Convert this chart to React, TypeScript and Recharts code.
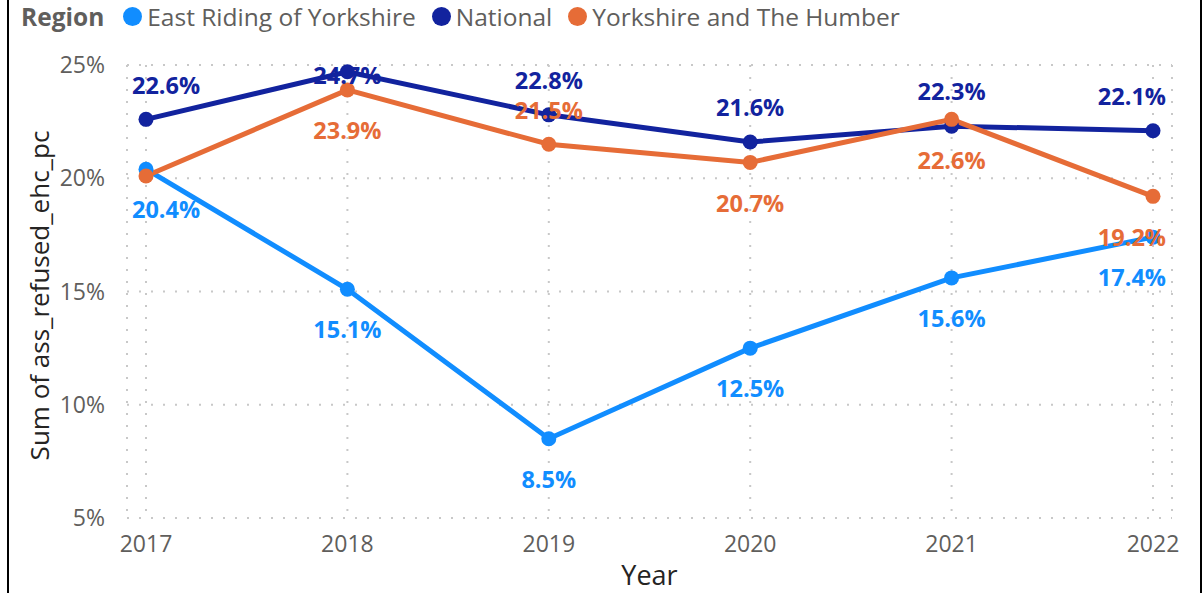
import { LineChart, Line, XAxis, YAxis, CartesianGrid, LabelList, Label } from 'recharts';

const years = ['2017', '2018', '2019', '2020', '2021', '2022'];
const eastRiding = [20.4, 15.1, 8.5, 12.5, 15.6, 17.4];
const national = [22.6, 24.7, 22.8, 21.6, 22.3, 22.1];
const yorkshire = [20.1, 23.9, 21.5, 20.7, 22.6, 19.2];
const yTicks = [5, 10, 15, 20, 25];

// where the data label sits relative to each point
const eastPlacement = ['below', 'below', 'below', 'below', 'below', 'below'];
const nationalPlacement = ['above', 'on', 'above', 'above', 'above', 'above'];
const yorkshirePlacement = ['none', 'below', 'above', 'below', 'below', 'below'];

const FONT = "'Segoe UI', 'Open Sans', sans-serif";
const EAST = '#118DFF';
const NATIONAL = '#12239E';
const YORKSHIRE = '#E66C37';

const data = years.map((year, i) => ({
  year,
  east: eastRiding[i],
  national: national[i],
  yorkshire: yorkshire[i],
}));

const legendItems = [
  { name: 'East Riding of Yorkshire', color: EAST },
  { name: 'National', color: NATIONAL },
  { name: 'Yorkshire and The Humber', color: YORKSHIRE },
];

function pointLabel(color: string, placement: string[]) {
  return (props: any) => {
    const { value, index } = props;
    const x = props.viewBox?.x ?? props.x;
    const y = props.viewBox?.y ?? props.y;
    const where = placement[index];
    if (where === 'none' || value == null) return null;
    let ty = y + 4;
    if (where === 'above') ty = y - 34;
    if (where === 'below') ty = y + 41;
    let tx = x;
    let anchor: 'start' | 'middle' | 'end' = 'middle';
    // keep first/last labels inside the plot area
    if (index === 0) {
      tx = x - 14;
      anchor = 'start';
    } else if (index === years.length - 1) {
      tx = x + 13;
      anchor = 'end';
    }
    return (
      <text
        x={tx}
        y={ty}
        dy="0.35em"
        textAnchor={anchor}
        fill={color}
        fontFamily={FONT}
        fontSize={23.5}
        fontWeight={700}
      >
        {value.toFixed(1)}%
      </text>
    );
  };
}

const XTick = ({ x, y, payload }: any) => (
  <text x={x} y={y + 26} textAnchor="middle" fill="#605E5C" fontFamily={FONT} fontSize={23}>
    {payload.value}
  </text>
);

const YTick = ({ y, payload }: any) => (
  <text x={105} y={y + 8} textAnchor="end" fill="#605E5C" fontFamily={FONT} fontSize={23}>
    {payload.value}%
  </text>
);

export default function App() {
  return (
    <div style={{ position: 'absolute', left: 0, top: 0, width: 1202, height: 593, background: '#fff', overflow: 'hidden' }}>
      <div
        style={{
          position: 'absolute',
          left: 7,
          top: -4,
          width: 1191,
          height: 601,
          borderLeft: '2px solid #000',
          borderRight: '2px solid #000',
        }}
      />
      <div
        style={{
          position: 'absolute',
          left: 21,
          top: 0,
          display: 'flex',
          alignItems: 'center',
          fontFamily: FONT,
          fontSize: 24.5,
          color: '#605E5C',
          whiteSpace: 'nowrap',
        }}
      >
        <span style={{ fontWeight: 700, marginRight: 19 }}>Region</span>
        {legendItems.map((item) => (
          <span key={item.name} style={{ display: 'flex', alignItems: 'center', marginRight: 16 }}>
            <span
              style={{
                width: 19,
                height: 19,
                borderRadius: '50%',
                background: item.color,
                marginRight: 5,
                display: 'inline-block',
              }}
            />
            {item.name}
          </span>
        ))}
      </div>
      <LineChart width={1202} height={593} data={data} margin={{ top: 65, right: 30, bottom: 0, left: 0 }}>
        <CartesianGrid stroke="#C8C8C8" strokeWidth={2} strokeDasharray="2 10" />
        <XAxis
          dataKey="year"
          height={75}
          padding={{ left: 19, right: 19 }}
          axisLine={false}
          tickLine={false}
          tick={<XTick />}
          interval={0}
        >
          <Label
            content={({ viewBox }: any) => (
              <text
                x={viewBox.x + viewBox.width / 2}
                y={viewBox.y + viewBox.height - 8}
                textAnchor="middle"
                fill="#252423"
                fontFamily={FONT}
                fontSize={27}
              >
                Year
              </text>
            )}
          />
        </XAxis>
        <YAxis
          width={127}
          domain={[5, 25]}
          ticks={yTicks}
          axisLine={false}
          tickLine={false}
          tick={<YTick />}
        >
          <Label
            content={({ viewBox }: any) => {
              const cx = 40;
              const cy = viewBox.y + viewBox.height / 2 + 4;
              return (
                <text
                  x={cx}
                  y={cy}
                  dy="0.35em"
                  transform={`rotate(-90, ${cx}, ${cy})`}
                  textAnchor="middle"
                  fill="#252423"
                  fontFamily={FONT}
                  fontSize={26}
                >
                  Sum of ass_refused_ehc_pc
                </text>
              );
            }}
          />
        </YAxis>
        <Line
          dataKey="east"
          stroke={EAST}
          strokeWidth={5}
          dot={{ r: 7.5, fill: EAST, stroke: 'none' }}
          activeDot={false}
          isAnimationActive={false}
        >
          <LabelList dataKey="east" content={pointLabel(EAST, eastPlacement)} />
        </Line>
        <Line
          dataKey="national"
          stroke={NATIONAL}
          strokeWidth={5}
          dot={{ r: 7.5, fill: NATIONAL, stroke: 'none' }}
          activeDot={false}
          isAnimationActive={false}
        >
          <LabelList dataKey="national" content={pointLabel(NATIONAL, nationalPlacement)} />
        </Line>
        <Line
          dataKey="yorkshire"
          stroke={YORKSHIRE}
          strokeWidth={5}
          dot={{ r: 7.5, fill: YORKSHIRE, stroke: 'none' }}
          activeDot={false}
          isAnimationActive={false}
        >
          <LabelList dataKey="yorkshire" content={pointLabel(YORKSHIRE, yorkshirePlacement)} />
        </Line>
      </LineChart>
    </div>
  );
}
